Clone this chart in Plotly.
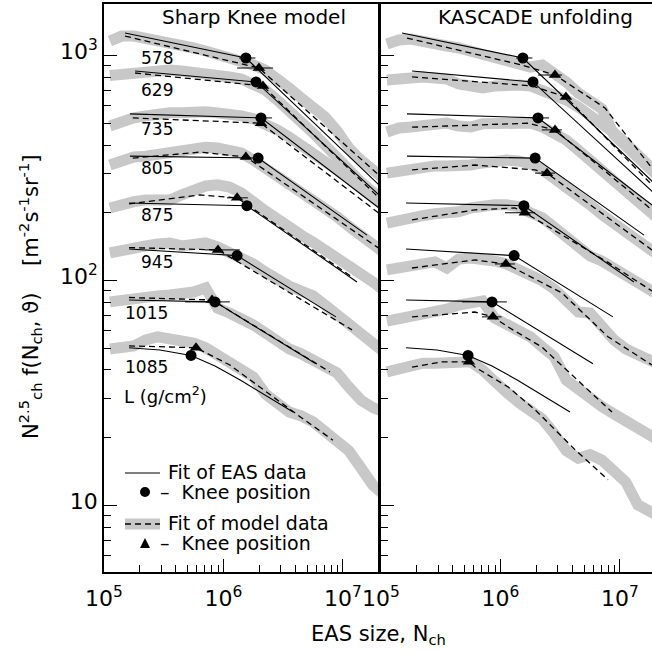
import plotly.graph_objects as go

# ---------------- data ----------------
DEPTHS = [578, 629, 735, 805, 875, 945, 1015, 1085]   # L (g/cm^2)

# common N_ch bins of the model / unfolded data bands
N_BINS = [1.12e5, 1.41e5, 1.78e5, 2.24e5, 2.82e5, 3.55e5, 4.47e5, 5.62e5, 7.08e5, 8.91e5,
          1.12e6, 1.41e6, 1.78e6, 2.24e6, 2.82e6, 3.55e6, 4.47e6, 5.62e6, 7.08e6, 8.91e6,
          1.12e7, 1.41e7, 1.78e7, 2.24e7]

# Sharp Knee model data (grey bands, left panel)
SHARP_BAND = [
    [1160, 1220, 1220, 1196, 1172, 1136, 1102, 1080, 1047, 1016, 985, 945, 907, 862, 794, 717, 647, 585, 533, 462, 388, 343, 310, 280],
    [815, 827, 836, 845, 853, 862, 853, 845, 827, 819, 803, 786, 754, 703, 634, 573, 507, 453, 400, 350, 310, 274, 247, 228],
    [486, 512, 528, 539, 550, 556, 556, 562, 562, 556, 550, 539, 523, 497, 467, 434, 400, 372, 343, 316, 285, 258, 235, 213],
    [326, 343, 354, 357, 365, 372, 376, 380, 391, 388, 376, 369, 343, 316, 292, 272, 249, 228, 211, 192, 174, 158, 144, 132],
    [210, 219, 224, 228, 228, 228, 240, 255, 263, 266, 260, 245, 221, 204, 188, 171, 159, 148, 137, 128, 117, 108, 98.5, 89.8],
    [132.5, 136.7, 139.5, 142.4, 145.3, 146.8, 142.4, 145.3, 146.8, 141, 134, 126, 118.4, 109, 100.5, 94.5, 89.8, 85.4, 77.8, 70.3, 62.8, 56.7, 51.7, 47.7],
    [80.3, 81.9, 83.6, 84.4, 85.4, 86.2, 87.1, 88.8, 92.6, 75.4, 71.7, 68.1, 63.4, 58.5, 53.3, 49.6, 47.2, 44.3, 41.2, 38.8, 33.6, 29.4, 27.2, 25.9],
    [49.6, 50.2, 51.2, 54.4, 56.2, 55.0, 53.9, 52.7, 50.2, 46.7, 43.5, 40.0, 37.2, 31.3, 28.0, 26.0, 25.0, 23.5, 21.3, 19.3, 17.5, 14.7, 12.3, 11.1],
]

# KASCADE unfolded spectra (grey bands, right panel)
KASCADE_BAND = [
    [1125, 1172, 1184, 1148, 1125, 1102, 1080, 1047, 1016, 975, 945, 907, 889, 907, 845, 763, 682, 622, 579, 443, 396, 361, 316, 280],
    [778, 786, 803, 803, 794, 786, 747, 724, 717, 732, 739, 739, 732, 703, 667, 634, 591, 544, 501, 453, 408, 361, 320, 285],
    [457, 476, 481, 491, 501, 501, 486, 481, 497, 501, 507, 507, 501, 481, 453, 421, 380, 343, 310, 280, 247, 228, 202, 182],
    [300, 307, 310, 316, 323, 323, 323, 326, 333, 340, 343, 340, 330, 310, 285, 263, 240, 217, 196, 178, 163, 148, 137, 126],
    [180, 186, 190, 194, 198, 200, 202, 210, 215, 217, 217, 213, 200, 190, 172.5, 157.7, 143.8, 128.5, 122, 114, 105, 98.5, 90.7, 84.4],
    [111.4, 113.6, 114.7, 118.4, 120.9, 113.6, 124.5, 125.8, 124.5, 122.1, 118.4, 112.5, 106.9, 99.6, 91.6, 82.7, 72.4, 71.7, 61.5, 54.4, 49.6, 46.7, 44.3, 41.7],
    [66.0, 67.4, 68.9, 70.3, 71.7, 74.6, 77.8, 78.6, 81.1, 68.1, 64.0, 60.8, 56.2, 50.6, 45.8, 36.1, 32.6, 30.4, 27.5, 25.5, 23.5, 21.9, 20.4, 19.1],
    [39.2, 40.4, 41.2, 42.9, 42.9, 43.5, 43.9, 43.5, 40.0, 35.0, 31.9, 28.8, 26.8, 24.2, 20.8, 17.5, 16.2, 16.8, 15.9, 14.1, 12.7, 10.05, 9.26, 8.8],
]

# Fits of EAS data (solid lines, identical in both panels)
EAS_FIT_X = [
    [1.50e5, 1.54e6, 2.0e7],
    [1.82e5, 1.87e6, 2.0e7],
    [1.65e5, 2.06e6, 2.0e7],
    [1.65e5, 1.95e6, 1.59e7],
    [1.62e5, 1.57e6, 1.31e7],
    [1.62e5, 1.30e6, 8.73e6],
    [1.62e5, 8.49e5, 5.94e6],
    [1.62e5, 2.94e5, 5.35e5, 8.49e5, 1.38e6, 2.22e6, 3.82e6],
]
EAS_FIT_Y = [
    [1259, 975, 266],
    [853, 763, 240],
    [550, 528, 210],
    [357, 350, 159],
    [221, 215, 98.5],
    [138, 129, 68.9],
    [81.9, 80.3, 42.6],
    [50.2, 49.1, 46.4, 41.7, 36.1, 31.0, 26.0],
]
EAS_KNEE_X = [1.54e6, 1.87e6, 2.06e6, 1.95e6, 1.57e6, 1.30e6, 8.49e5, 5.35e5]
EAS_KNEE_Y = [975, 763, 528, 350, 215, 129, 80.3, 46.4]
EAS_KNEE_LO = [1.35e6, None, 1.84e6, None, None, None, 4.77e5, None]
EAS_KNEE_HI = [1.85e6, None, 2.55e6, None, None, None, 1.13e6, None]

# Fits of Sharp Knee model data (dashed, left panel)
SHARP_FIT_X = [
    [1.50e5, 1.98e6, 2.0e7],
    [1.82e5, 2.14e6, 2.0e7],
    [1.74e5, 2.06e6, 2.0e7],
    [1.74e5, 6.35e5, 1.54e6, 2.0e7],
    [1.62e5, 6.35e5, 1.30e6, 1.19e7],
    [1.62e5, 8.99e5, 1.19e7],
    [1.62e5, 8.02e5, 7.78e6],
    [1.62e5, 5.89e5, 1.13e6, 2.45e6, 4.37e6, 8.24e6],
]
SHARP_FIT_Y = [
    [1220, 880, 294],
    [836, 732, 233],
    [528, 500, 199],
    [350, 372, 354, 139],
    [219, 240, 233, 103.6],
    [140, 136.7, 60.3],
    [84.0, 81.9, 39.2],
    [51.2, 50.2, 42.1, 31.0, 24.8, 19.5],
]
SHARP_KNEE_X = [1.98e6, 2.14e6, 2.06e6, 1.54e6, 1.30e6, 8.99e5, 8.02e5, 5.89e5]
SHARP_KNEE_Y = [880, 732, 500, 354, 233, 136.7, 81.9, 50.2]
SHARP_KNEE_LO = [1.30e6, None, None, None, 1.07e6, 7.0e5, None, None]
SHARP_KNEE_HI = [2.60e6, None, None, None, 1.60e6, 1.37e6, None, None]

# Fits of KASCADE unfolded data (dashed, right panel)
KASCADE_FIT_X = [
    [1.65e5, 1.51e6, 2.86e6, 7.48e6, 1.85e7],
    [1.82e5, 1.84e6, 3.53e6, 1.85e7],
    [1.82e5, 1.70e6, 2.86e6, 1.85e7],
    [1.82e5, 6.12e5, 1.95e6, 2.45e6, 1.85e7],
    [1.82e5, 6.12e5, 1.32e6, 1.60e6, 7.94e6, 1.85e7],
    [1.82e5, 6.12e5, 1.11e6, 3.27e6, 7.94e6, 1.85e7],
    [1.82e5, 6.12e5, 8.65e5, 1.16e6, 2.22e6, 4.20e6, 8.57e6],
    [1.82e5, 3.24e5, 5.45e5, 6.12e5, 1.16e6, 1.95e6, 2.86e6, 4.20e6, 7.94e6],
]
KASCADE_FIT_Y = [
    [1196, 907, 819, 585, 316],
    [803, 732, 654, 266],
    [480, 500, 467, 206],
    [310, 326, 310, 300, 136.7],
    [186, 206, 210, 200, 120.3, 89.8],
    [113.6, 123.4, 118.4, 88.0, 56.2, 42.1],
    [68.9, 72.4, 68.9, 62.1, 50.6, 36.8, 26.0],
    [41.2, 43.5, 43.5, 41.2, 33.6, 26.6, 21.7, 17.7, 13.0],
]
KASCADE_KNEE_X = [2.86e6, 3.53e6, 2.86e6, 2.45e6, 1.60e6, 1.11e6, 8.65e5, 5.45e5]
KASCADE_KNEE_Y = [819, 654, 467, 300, 200, 118.4, 68.9, 43.5]
KASCADE_KNEE_LO = [2.06e6, None, 2.22e6, 1.95e6, 1.09e6, 9.0e5, 7.0e5, None]
KASCADE_KNEE_HI = [3.27e6, None, 3.27e6, 2.86e6, 1.95e6, 1.32e6, 1.02e6, None]

X_TICKS = [1e5, 1e6, 1e7]
X_TICKTEXT = ["10<sup>5</sup>", "10<sup>6</sup>", "10<sup>7</sup>"]
Y_TICKS = [10, 100, 1000]
Y_TICKTEXT = ["10", "10<sup>2</sup>", "10<sup>3</sup>"]

# ---------------- figure ----------------
W, H = 652, 653
def fx(p):
    return p / W
def fy(p):
    return 1 - p / H

GREY = "#c8c8c8"
BAND_W = 11
FONT = "DejaVu Sans"
DASH = "6px,4px"


def err(knee, lo, hi):
    plus = [(h - k) if h is not None else 0 for k, h in zip(knee, hi)]
    minus = [(k - l) if l is not None else 0 for k, l in zip(knee, lo)]
    return dict(type="data", symmetric=False, array=plus, arrayminus=minus,
                color="black", thickness=1, width=0)


fig = go.Figure()
panels = [("x", "y", SHARP_BAND, SHARP_FIT_X, SHARP_FIT_Y, SHARP_KNEE_X, SHARP_KNEE_Y,
           SHARP_KNEE_LO, SHARP_KNEE_HI),
          ("x2", "y2", KASCADE_BAND, KASCADE_FIT_X, KASCADE_FIT_Y, KASCADE_KNEE_X, KASCADE_KNEE_Y,
           KASCADE_KNEE_LO, KASCADE_KNEE_HI)]

for xa, ya, band, fx_, fy_, kx, ky, klo, khi in panels:
    for i in range(len(DEPTHS)):
        fig.add_trace(go.Scatter(x=N_BINS, y=band[i], mode="lines", xaxis=xa, yaxis=ya,
                                 line=dict(color=GREY, width=BAND_W), hoverinfo="skip", showlegend=False))
    for i in range(len(DEPTHS)):
        fig.add_trace(go.Scatter(x=fx_[i], y=fy_[i], mode="lines", xaxis=xa, yaxis=ya,
                                 line=dict(color="black", width=1.3, dash=DASH), hoverinfo="skip", showlegend=False))
        fig.add_trace(go.Scatter(x=EAS_FIT_X[i], y=EAS_FIT_Y[i], mode="lines", xaxis=xa, yaxis=ya,
                                 line=dict(color="black", width=1.1), hoverinfo="skip", showlegend=False))
    fig.add_trace(go.Scatter(x=kx, y=ky, mode="markers", xaxis=xa, yaxis=ya,
                             marker=dict(symbol="triangle-up", size=11, color="black"),
                             error_x=err(kx, klo, khi), hoverinfo="skip", showlegend=False))
    fig.add_trace(go.Scatter(x=EAS_KNEE_X, y=EAS_KNEE_Y, mode="markers", xaxis=xa, yaxis=ya,
                             marker=dict(symbol="circle", size=11, color="black"),
                             error_x=err(EAS_KNEE_X, EAS_KNEE_LO, EAS_KNEE_HI),
                             hoverinfo="skip", showlegend=False))

x_minor = [k * 10 ** e for e in (5, 6) for k in range(2, 10)] + [2e7]
y_minor = [k * 10 ** e for e in (0, 1, 2) for k in range(2, 10)]

common_x = dict(type="log", showline=True, linecolor="black", linewidth=1.5, mirror=True,
                ticks="inside", ticklen=13, tickwidth=1, tickcolor="black", automargin=False,
                tickvals=X_TICKS, ticktext=X_TICKTEXT, showgrid=False, zeroline=False,
                ticklabelstandoff=6,
                tickfont=dict(family=FONT, size=22, color="black"),
                minor=dict(tickvals=x_minor, ticks="inside", ticklen=7, tickcolor="black", showgrid=False))
common_y = dict(type="log", range=[0.704, 3.229], showline=True, linecolor="black", linewidth=1.5,
                ticks="inside", ticklen=13, tickwidth=1, tickcolor="black", automargin=False,
                tickvals=Y_TICKS, showgrid=False, zeroline=False,
                tickfont=dict(family=FONT, size=22, color="black"),
                minor=dict(tickvals=y_minor, ticks="inside", ticklen=7, tickcolor="black", showgrid=False))

fig.update_layout(
    template="none",
    width=W, height=H, margin=dict(l=0, r=0, t=0, b=0, autoexpand=False),
    paper_bgcolor="white", plot_bgcolor="white",
    font=dict(family=FONT, color="black"),
    xaxis=dict(common_x, domain=[fx(104), fx(378)], range=[5, 7.293], anchor="y"),
    xaxis2=dict(common_x, domain=[fx(381), 1.0], range=[5, 7.268], anchor="y2"),
    yaxis=dict(common_y, domain=[fy(572), fy(4)], anchor="x", mirror=True, ticktext=Y_TICKTEXT,
               ticklabelshift=-4),
    yaxis2=dict(common_y, domain=[fy(572), fy(4)], anchor="x2", showticklabels=False),
)

ann = []
def text(x, y, s, size=17, xanchor="center", **kw):
    ann.append(dict(x=fx(x), y=fy(y), xref="paper", yref="paper", text=s, showarrow=False,
                    xanchor=xanchor, yanchor="middle", font=dict(family=FONT, size=size, color="black"), **kw))

text(254, 17, "Sharp Knee model", 20)
text(535, 17, "KASCADE unfolding", 20)
label_pos = [(157, 58), (157, 90), (157, 129), (157, 168), (157, 215), (157, 262), (146, 313), (146, 367)]
for d, (x, y) in zip(DEPTHS, label_pos):
    text(x, y, str(d), 17)
text(166, 395, "L (g/cm<sup>2</sup>)", 18)
text(166, 472, "Fit of EAS data", 19, xanchor="left")
text(158, 492, "–  Knee position", 19, xanchor="left")
text(166, 523, "Fit of model data", 19, xanchor="left")
text(158, 543, "–  Knee position", 19, xanchor="left")
text(378, 635, "EAS size, N<sub>ch</sub>", 21)
text(30, 297, "N<sup>2.5</sup><sub>ch</sub> f(N<sub>ch</sub>, ϑ)    [m<sup>-2</sup>s<sup>-1</sup>sr<sup>-1</sup>]", 21, textangle=-90)
fig.update_layout(annotations=ann)

shapes = [
    dict(type="line", xref="paper", yref="paper", x0=fx(125), x1=fx(160), y0=fy(473), y1=fy(473),
         line=dict(color="black", width=1.2)),
    dict(type="circle", xref="paper", yref="paper", x0=fx(140), x1=fx(150), y0=fy(497), y1=fy(487),
         fillcolor="black", line=dict(color="black", width=0)),
    dict(type="line", xref="paper", yref="paper", x0=fx(125), x1=fx(160), y0=fy(524), y1=fy(524),
         line=dict(color=GREY, width=BAND_W)),
    dict(type="line", xref="paper", yref="paper", x0=fx(125), x1=fx(160), y0=fy(524), y1=fy(524),
         line=dict(color="black", width=1.3, dash=DASH)),
    dict(type="path", xref="paper", yref="paper",
         path=f"M {fx(140)},{fy(548)} L {fx(150)},{fy(548)} L {fx(145)},{fy(538)} Z",
         fillcolor="black", line=dict(color="black", width=0)),
]
fig.update_layout(shapes=shapes)

fig.write_html("out.html")
